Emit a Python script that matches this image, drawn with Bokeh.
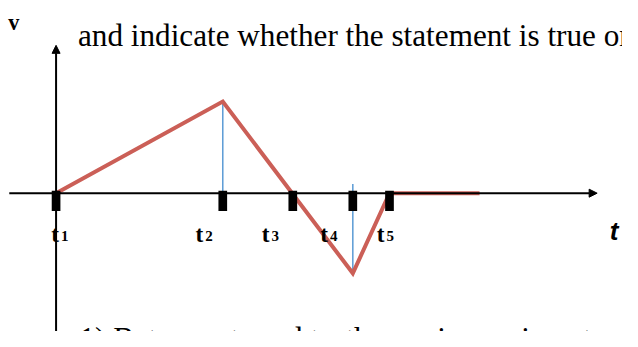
from bokeh.plotting import figure
from bokeh.models import Range1d, Arrow, NormalHead
from bokeh.core.properties import value
from bokeh.embed import file_html
from bokeh.resources import INLINE

# ---- data ----
times = [0, 5, 8.9, 10, 12.7]          # velocity curve vertices (time units)
velocity = [0, 4, -3.5, 0, 0]          # velocity at those times
tick_times = [0, 5, 7.1, 8.9, 10]      # t1 .. t5
tick_digits = ["1", "2", "3", "4", "5"]
guide_times = [5, 8.9]                 # thin blue guide lines
guide_from = [4, -3.5]
guide_to = [0, 0.4]

# ---- layout (reference pixel -> data helpers) ----
W, H = 622, 331            # figure size (fits the 638x347 window with 8px margin)
REF_W, REF_H = 638, 347    # reference picture size
OX, OY = 57, 202           # origin in reference pixels
SX, SY = 34.2, 24.0        # reference pixels per unit
K = 0.965                  # screen-size scale (figure / reference)


def rx(px):
    return (px - OX) / SX


def ry(py):
    return (OY - py) / SY


def fs(px):
    return value(f"{px * K:.1f}px")


p = figure(width=W, height=H, output_backend="svg", toolbar_location=None,
           x_axis_type=None, y_axis_type=None,
           x_range=Range1d(rx(0), rx(REF_W)), y_range=Range1d(ry(REF_H), ry(0)),
           min_border=0, min_border_left=0, min_border_right=0,
           min_border_top=0, min_border_bottom=0)
p.outline_line_color = None
p.background_fill_color = "white"
p.border_fill_color = "white"

SERIF = value("Liberation Serif")

# axes
p.add_layout(Arrow(end=NormalHead(size=8, fill_color="black", line_color="black", line_width=1),
                   x_start=rx(9), y_start=0, x_end=rx(612), y_end=0,
                   line_color="black", line_width=2))
p.add_layout(Arrow(end=NormalHead(size=8, fill_color="black", line_color="black", line_width=1),
                   x_start=0, y_start=ry(REF_H + 20), x_end=0, y_end=ry(47),
                   line_color="black", line_width=2))

# blue guides
p.segment(x0=guide_times, y0=guide_from, x1=guide_times, y1=guide_to,
          line_color="#5B9BD5", line_width=1.5)

# velocity curve
p.line(times, velocity, line_color="#CB5F57", line_width=4, line_join="miter")

# tick blocks
p.rect(x=tick_times, y=[ry(210)] * len(tick_times), width=9 * K, height=21 * K,
       width_units="screen", height_units="screen",
       fill_color="black", line_color=None)

# tick labels
label_left = [rx(v) for v in (52, 200, 268, 328, 386)]
p.text(x=label_left, y=[ry(245)] * 5, text=["t"] * 5,
       text_font=SERIF, text_font_size=fs(24), text_font_style="bold",
       text_baseline="alphabetic", text_align="left", text_color="black")
p.text(x=[v + 10 / SX for v in label_left], y=[ry(247)] * 5, text=tick_digits,
       text_font=SERIF, text_font_size=fs(15.5), text_font_style="bold",
       text_baseline="alphabetic", text_align="left", text_color="black")

# axis names
p.text(x=[rx(8)], y=[ry(23)], text=["v"], text_font=SERIF,
       text_font_size=fs(23), text_font_style="bold",
       text_baseline="alphabetic", text_align="left", text_color="black")
p.text(x=[rx(625)], y=[ry(242)], text=["t"], text_font=value("Liberation Sans"),
       text_font_size=fs(27), text_font_style="bold italic",
       text_baseline="alphabetic", text_align="left", text_color="black")

# surrounding document text
p.text(x=[rx(79.5)], y=[ry(37)], text=["and indicate whether the statement is true or"],
       text_font=SERIF, text_font_size=value("31.2px"),
       text_baseline="alphabetic", text_align="left", text_color="black")
p.text(x=[rx(81)], y=[ry(354)], text=["1) Between t\u2081 and t\u2082, the car is moving at co"],
       text_font=SERIF, text_font_size=value("31.2px"),
       text_baseline="alphabetic", text_align="left", text_color="black")

open("out.html", "w").write(file_html(p, INLINE))
